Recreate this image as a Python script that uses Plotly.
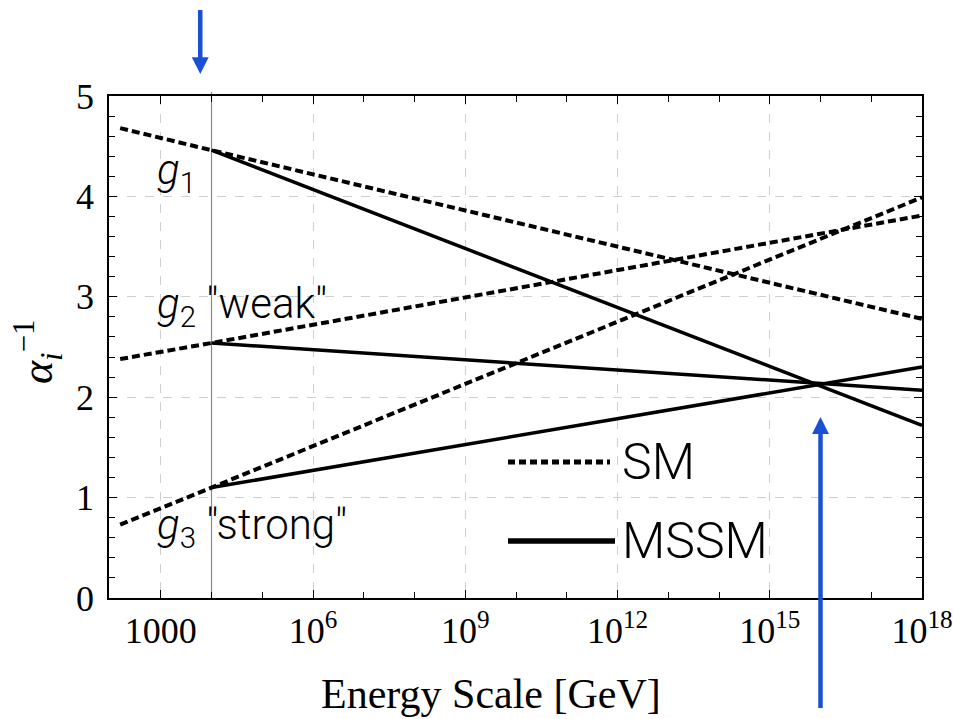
import numpy as np
import plotly.graph_objects as go

# ---------------- data ----------------
sm_energy = [10**2.2, 1e4, 1e18]          # GeV
sm_g1 = [4.68, 4.46, 2.78]
sm_g2 = [2.38, 2.54, 3.81]
sm_g3 = [0.73, 1.10, 3.99]

mssm_energy = [1e4, 1e18]                  # GeV
mssm_g1 = [4.46, 1.72]
mssm_g2 = [2.54, 2.07]
mssm_g3 = [1.10, 2.30]

susy_scale = 1e4                           # vertical marker line
arrow_low_energy = 6e3
arrow_gut_energy = 1e16

x_tickvals = [1e3, 1e6, 1e9, 1e12, 1e15, 1e18]
x_ticktext = ["1000", "10<sup>6</sup>", "10<sup>9</sup>", "10<sup>12</sup>",
              "10<sup>15</sup>", "10<sup>18</sup>"]
x_minor = [1e4, 1e5, 1e7, 1e8, 1e10, 1e11, 1e13, 1e14, 1e16, 1e17]
y_tickvals = [0, 1, 2, 3, 4, 5]

# ---------------- layout helpers ----------------
W, H = 953, 719
ML, MR, MT, MB = 109, 31, 96, 121
PW, PH = W - ML - MR, H - MT - MB


def px(x):
    return (x - ML) / PW


def py(y):
    return (H - MB - y) / PH


BLUE = "#1a50d2"
SERIF = "Liberation Serif"
SANS = "Roboto"

fig = go.Figure()

dash_sm = "8px,4px"
for yv in (mssm_g1, mssm_g2, mssm_g3):
    fig.add_trace(go.Scatter(x=mssm_energy, y=yv, mode="lines",
                             line=dict(color="black", width=3.5),
                             showlegend=False, hoverinfo="skip"))
for yv in (sm_g1, sm_g2, sm_g3):
    fig.add_trace(go.Scatter(x=sm_energy, y=yv, mode="lines",
                             line=dict(color="black", width=4, dash=dash_sm),
                             showlegend=False, hoverinfo="skip"))

shapes = []
# vertical line at SUSY scale
shapes.append(dict(type="line", xref="x", yref="paper",
                   x0=susy_scale, x1=susy_scale, y0=0, y1=1.008,
                   line=dict(color="#8a8a8a", width=1.2), layer="below"))
# legend samples
shapes.append(dict(type="line", xref="paper", yref="paper",
                   x0=px(508), x1=px(610), y0=py(462), y1=py(462),
                   line=dict(color="black", width=5, dash="7px,4px")))
shapes.append(dict(type="line", xref="paper", yref="paper",
                   x0=px(508), x1=px(615), y0=py(541), y1=py(541),
                   line=dict(color="black", width=5.5)))

annotations = []
lab_font = dict(family=SANS, size=42, color="black", weight=300)


def glabel(sub, rest):
    return '<i>g</i><sub>' + sub + '</sub>' + rest


annotations.append(dict(xref="paper", yref="paper", x=px(155), y=py(172),
                        xanchor="left", yanchor="middle", showarrow=False,
                        text=glabel("1", ""), font=lab_font))
annotations.append(dict(xref="paper", yref="paper", x=px(155), y=py(306),
                        xanchor="left", yanchor="middle", showarrow=False,
                        text=glabel("2", ' "weak"'), font=lab_font))
annotations.append(dict(xref="paper", yref="paper", x=px(155), y=py(527),
                        xanchor="left", yanchor="middle", showarrow=False,
                        text=glabel("3", ' "strong"'), font=lab_font))
# legend text
leg_font = dict(family=SANS, size=50, color="black", weight=300)
annotations.append(dict(xref="paper", yref="paper", x=px(620), y=py(462),
                        xanchor="left", yanchor="middle", showarrow=False,
                        text="SM", font=leg_font))
annotations.append(dict(xref="paper", yref="paper", x=px(620), y=py(541),
                        xanchor="left", yanchor="middle", showarrow=False,
                        text="MSSM", font=leg_font))
# x title
annotations.append(dict(xref="paper", yref="paper", x=px(491), y=py(694),
                        xanchor="center", yanchor="middle", showarrow=False,
                        text="Energy Scale [GeV]",
                        font=dict(family=SERIF, size=42, color="black")))
# y title
annotations.append(dict(xref="paper", yref="paper", x=px(38), y=py(352),
                        xanchor="center", yanchor="middle", showarrow=False,
                        textangle=-90,
                        text="<i>α</i><sub><i>i</i></sub><sup>−1</sup>",
                        font=dict(family=SERIF, size=44, color="black")))
# arrows
annotations.append(dict(xref="x", yref="paper", x=np.log10(arrow_low_energy),
                        y=py(74), ax=0, ay=-79, text=" ", showarrow=True,
                        arrowhead=2, arrowsize=0.75, arrowwidth=4.5,
                        arrowcolor=BLUE, standoff=0))
annotations.append(dict(xref="x", yref="paper", x=np.log10(arrow_gut_energy),
                        y=py(417), ax=0, ay=301, text=" ", showarrow=True,
                        arrowhead=2, arrowsize=0.75, arrowwidth=4.5,
                        arrowcolor=BLUE, standoff=0))

axis_common = dict(showline=True, linecolor="black", linewidth=1.5,
                   mirror="ticks", ticks="inside", tickcolor="black",
                   tickwidth=1, showgrid=True, gridcolor="#cfcfcf",
                   griddash="dash", gridwidth=1, zeroline=False,
                   automargin=False,
                   tickfont=dict(family=SERIF, size=36, color="black"))

fig.update_layout(
    width=W, height=H, autosize=False,
    margin=dict(l=ML, r=MR, t=MT, b=MB, pad=0),
    paper_bgcolor="white", plot_bgcolor="white",
    showlegend=False,
    shapes=shapes, annotations=annotations,
    xaxis=dict(type="log", range=[1.98, 18], tickvals=x_tickvals,
               ticktext=x_ticktext, ticklen=8,
               minor=dict(tickvals=x_minor, ticks="inside", ticklen=6,
                          tickcolor="black", showgrid=False),
               **axis_common),
    yaxis=dict(range=[0, 5], tickvals=y_tickvals, ticklen=8,
               minor=dict(dtick=0.2, ticks="inside", ticklen=6,
                          tickcolor="black", showgrid=False),
               ticklabelstandoff=6,
               **axis_common),
)

fig.write_html("out.html")
